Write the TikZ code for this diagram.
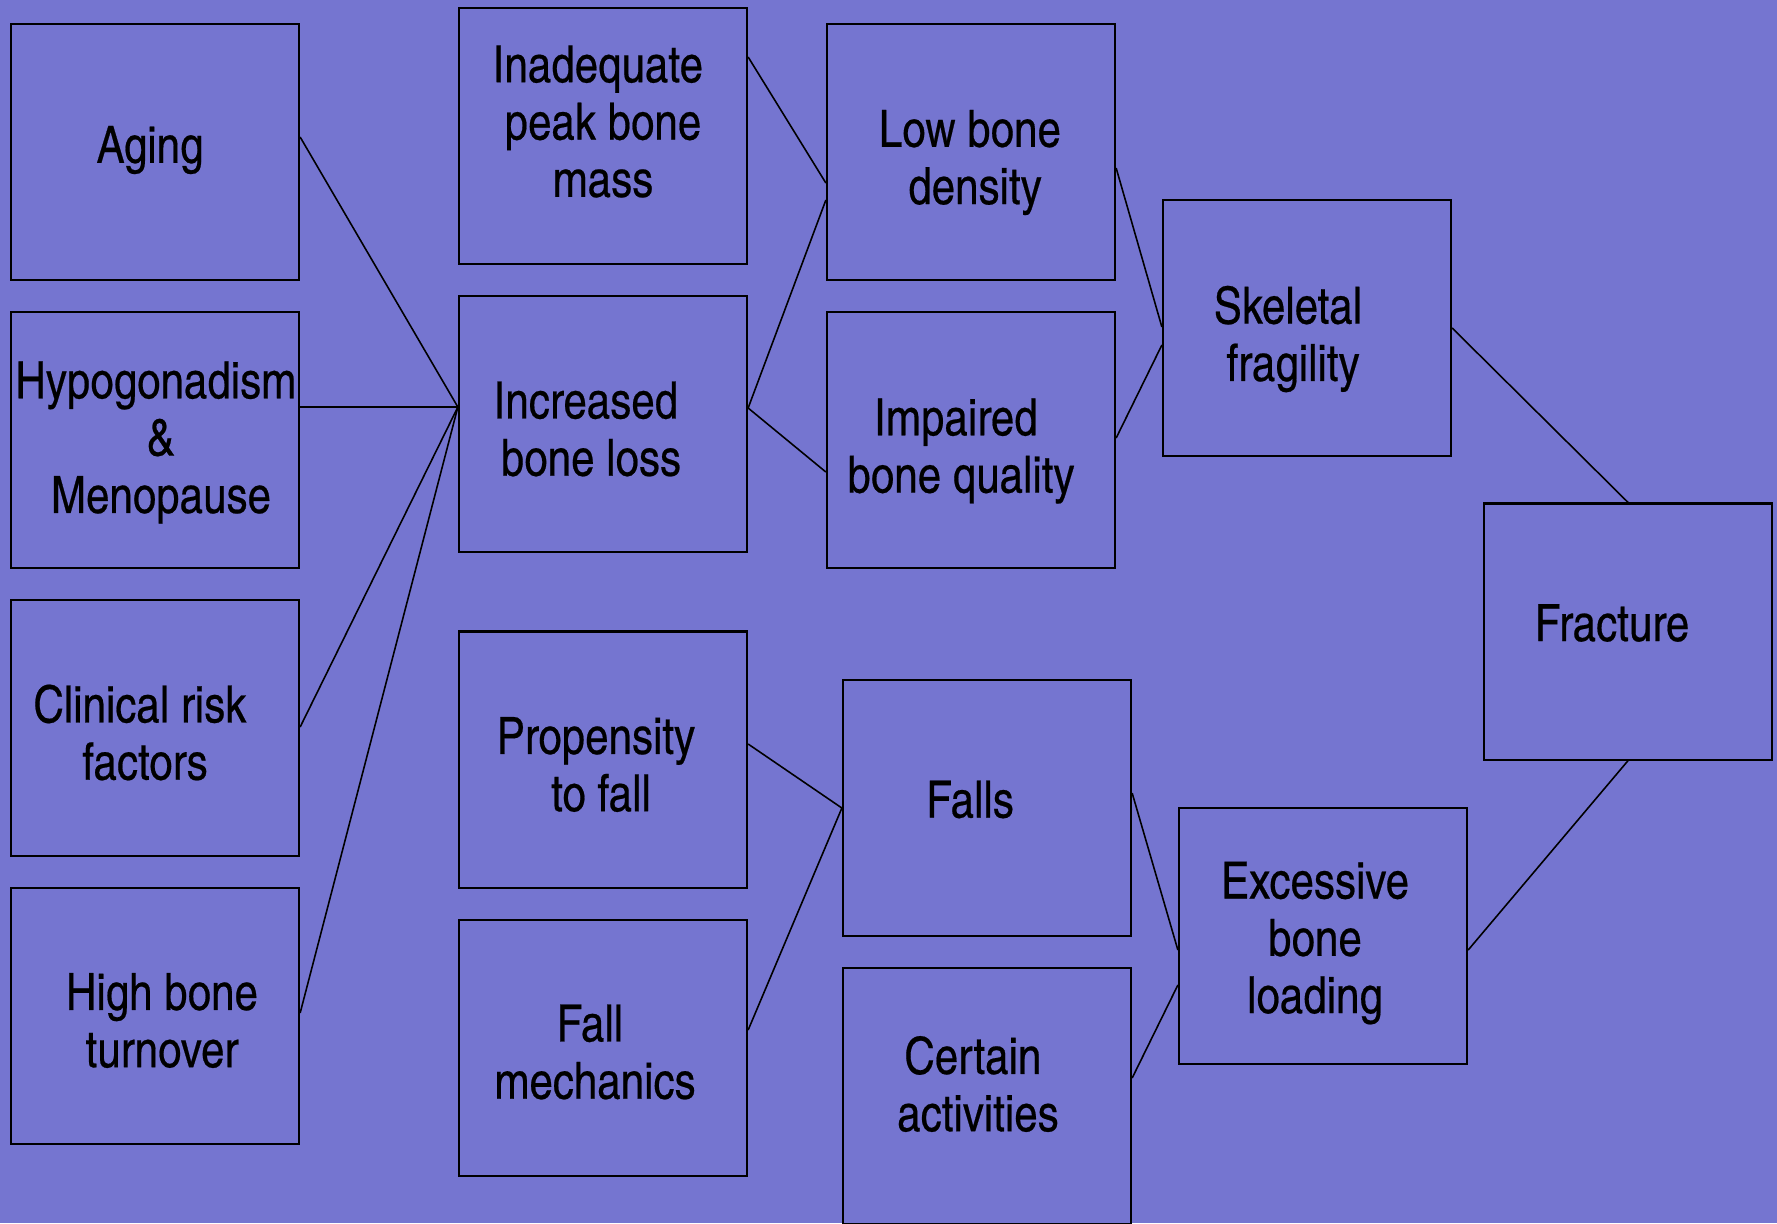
\documentclass[tikz,border=0pt]{standalone}
\usepackage{fontspec}
\setmainfont{texgyreheroscn-regular.otf}[FakeBold=0.4]
\definecolor{bg}{RGB}{117,117,208}
\newcommand\tsp{\hspace*{2.9pt}}
\begin{document}
\begin{tikzpicture}[x=0.01cm,y=-0.01cm,
  box/.style={draw=black,line width=0.6pt,minimum width=2.88cm,minimum height=2.56cm,inner sep=0pt,fill=bg},
  lbl/.style={align=center,font=\fontsize{14.6}{16.3}\selectfont,inner sep=0pt,text=black},
  conn/.style={draw=black,line width=0.45pt}]
\fill[bg] (0,0) rectangle (1777,1223);
\useasboundingbox (0,0) rectangle (1777,1223);
% boxes
\node[box] (aging) at (155,152) {};
\node[box] (hypo) at (155,440) {};
\node[box] (clin) at (155,728) {};
\node[box] (high) at (155,1016) {};
\node[box] (inad) at (603,136) {};
\node[box] (inc) at (603,424) {};
\node[box] (prop) at (603,759.6) {};
\node[box] (mech) at (603,1047.7) {};
\node[box] (low) at (971,152) {};
\node[box] (imp) at (971,440) {};
\node[box] (falls) at (987,808) {};
\node[box] (cert) at (987,1095.7) {};
\node[box] (skel) at (1307,328) {};
\node[box] (exc) at (1323,936) {};
\node[box] (frac) at (1628,631.5) {};
% texts
\node[lbl] (agingtext) at (150,150) {Aging};
\node[lbl] (hypotext) at (161,442.5) {Hypogonadism\tsp\\\&\\Menopause};
\node[lbl] (clintext) at (145,732.5) {Clinical risk\tsp\\factors};
\node[lbl] (hightext) at (162,1020.5) {High bone\\turnover};
\node[lbl] (inadtext) at (603,121.5) {Inadequate\tsp\\peak bone\tsp\\mass};
\node[lbl] (inctext) at (591,429) {Increased\tsp\\bone loss};
\node[lbl] (proptext) at (601,764.5) {Propensity\tsp\\to fall};
\node[lbl] (mechtext) at (595,1052) {Fall\tsp\\mechanics};
\node[lbl] (lowtext) at (975,162.5) {Low bone\tsp\\density};
\node[lbl] (imptext) at (961,451) {Impaired\tsp\\bone quality};
\node[lbl] (fallstext) at (970,799.5) {Falls};
\node[lbl] (certtext) at (978,1084) {Certain\tsp\\activities};
\node[lbl] (skeltext) at (1293,339) {Skeletal\tsp\\fragility};
\node[lbl] (exctext) at (1315,943) {Excessive\\bone\\loading};
\node[lbl] (fractext) at (1612,623) {Fracture};
% connectors
\draw[conn] (aging.east |- 0,137) -- (inc.west |- 0,407);
\draw[conn] (hypo.east |- 0,407) -- (inc.west |- 0,407);
\draw[conn] (clin.east |- 0,727) -- (inc.west |- 0,407);
\draw[conn] (high.east |- 0,1013) -- (inc.west |- 0,407);
\draw[conn] (inad.east |- 0,57) -- (low.west |- 0,183);
\draw[conn] (inc.east |- 0,408) -- (low.west |- 0,200);
\draw[conn] (inc.east |- 0,408) -- (imp.west |- 0,472);
\draw[conn] (low.east |- 0,168) -- (skel.west |- 0,327);
\draw[conn] (imp.east |- 0,438) -- (skel.west |- 0,345);
\draw[conn] (skel.east) -- (frac.north);
\draw[conn] (prop.east |- 0,744) -- (falls.west |- 0,808);
\draw[conn] (mech.east |- 0,1030) -- (falls.west |- 0,808);
\draw[conn] (falls.east |- 0,793) -- (exc.west |- 0,950);
\draw[conn] (cert.east |- 0,1078) -- (exc.west |- 0,985);
\draw[conn] (exc.east |- 0,950) -- (frac.south);
\end{tikzpicture}
\end{document}
